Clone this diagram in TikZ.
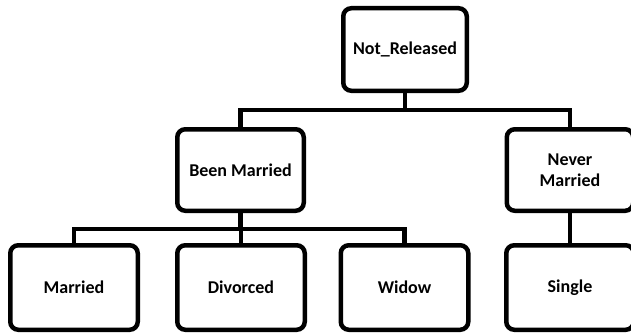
\documentclass[tikz,border=0pt]{standalone}
\usepackage{fontspec}
\setmainfont{Carlito}
\begin{document}
\begin{tikzpicture}[x=1pt,y=1pt,
  box/.style={draw=black, line width=4.5pt, rounded corners=8pt, fill=white,
    align=center, inner sep=0pt, font=\fontsize{18}{21}\selectfont\bfseries},
  topbox/.style={box, minimum width=123.5pt, minimum height=82.5pt},
  midbox/.style={box, minimum width=126.5pt, minimum height=81.5pt},
  leafbox/.style={box, minimum width=127.5pt, minimum height=84.5pt},
  link/.style={draw=black, line width=4.5pt, line join=miter}]
\useasboundingbox (0,0) rectangle (631,333);

% tree nodes
\node[topbox]  (root)     at (405,283.5) {Not\_Released};
\node[midbox]  (been)     at (240.5,163) {Been Married};
\node[midbox]  (never)    at (570,163)   {Never\\Married};
\node[leafbox] (married)  at (74,45.5)   {Married};
\node[leafbox] (divorced) at (241,45.5)  {Divorced};
\node[leafbox] (widow)    at (404.5,45.5){Widow};
\node[leafbox] (single)   at (570,45.5)  {Single};

% bus levels
\coordinate (bus1) at (0,223);
\coordinate (bus2) at (0,104);

% connectors
\path[link] (root.south) -- (root.south |- bus1);
\path[link] (been.north) -- (been.north |- bus1) -- (never.north |- bus1) -- (never.north);
\path[link] (been.south) -- (been.south |- bus2);
\path[link] (married.north) -- (married.north |- bus2) -- (widow.north |- bus2) -- (widow.north);
\path[link] (divorced.north) -- (divorced.north |- bus2);
\path[link] (single.north) -- (never.south);
\end{tikzpicture}
\end{document}
